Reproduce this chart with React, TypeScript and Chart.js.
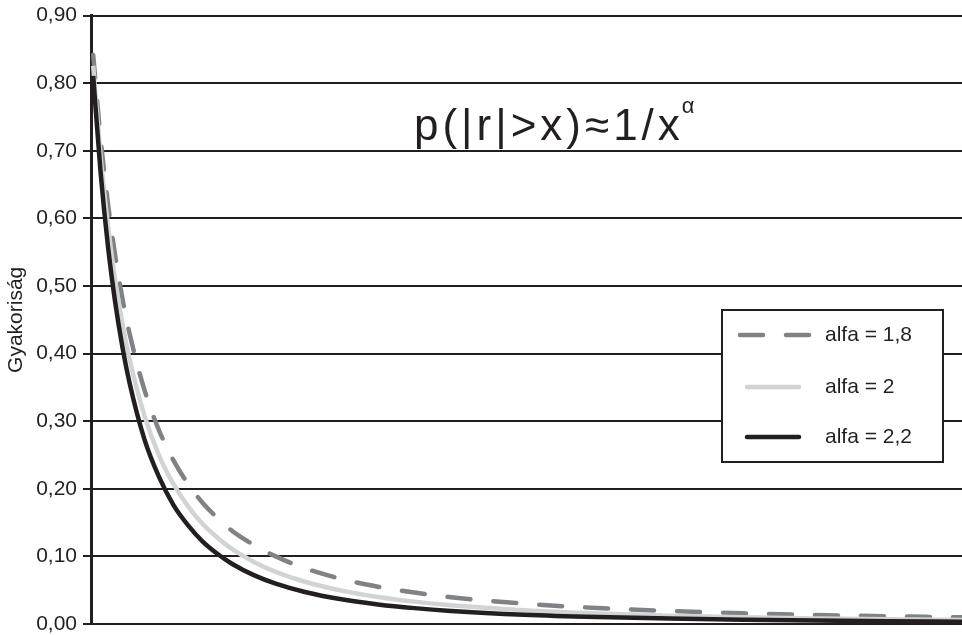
import React, { useEffect, useRef } from 'react';
import { Chart, registerables } from 'chart.js';

Chart.register(...registerables);

const FONT = "'Liberation Sans', Arial, Helvetica, sans-serif";
const INK = '#231f20';

const X_VALUES = [1.1, 1.2, 1.3, 1.4, 1.5, 1.6, 1.8, 2.0, 2.2, 2.4, 2.6, 2.8, 3.0, 3.3, 3.6, 4.0, 4.5, 5, 5.5, 6, 7, 8, 9, 10, 11, 12, 13];
const ALFA_18 = [0.842, 0.72, 0.624, 0.546, 0.482, 0.429, 0.347, 0.287, 0.242, 0.207, 0.179, 0.157, 0.138, 0.117, 0.1, 0.0825, 0.0667, 0.0552, 0.0465, 0.0397, 0.0301, 0.0237, 0.0192, 0.0158, 0.0134, 0.0114, 0.0099];
const ALFA_20 = [0.826, 0.694, 0.592, 0.51, 0.444, 0.391, 0.309, 0.25, 0.207, 0.174, 0.148, 0.128, 0.111, 0.0918, 0.0772, 0.0625, 0.0494, 0.04, 0.0331, 0.0278, 0.0204, 0.0156, 0.0123, 0.01, 0.0083, 0.0069, 0.0059];
const ALFA_22 = [0.811, 0.67, 0.561, 0.477, 0.41, 0.356, 0.274, 0.218, 0.176, 0.146, 0.122, 0.104, 0.0892, 0.0723, 0.0597, 0.0474, 0.0366, 0.029, 0.0235, 0.0194, 0.0138, 0.0103, 0.008, 0.0063, 0.0051, 0.0042, 0.0035];
const SERIES_LABELS = ['alfa = 1,8', 'alfa = 2', 'alfa = 2,2'];
const Y_TICK_LABELS = ['0,00', '0,10', '0,20', '0,30', '0,40', '0,50', '0,60', '0,70', '0,80', '0,90'];
const Y_TITLE = 'Gyakoriság';
const FORMULA = 'p(|r|>x)≈1/x';
const FORMULA_SUP = 'α';

const overlayPlugin = {
  id: 'overlay',
  afterDraw(chart: any) {
    const ctx = chart.ctx as CanvasRenderingContext2D;
    ctx.save();
    // formula
    ctx.fillStyle = INK;
    ctx.textBaseline = 'alphabetic';
    ctx.textAlign = 'left';
    ctx.font = `44px ${FONT}`;
    (ctx as any).letterSpacing = '4px';
    ctx.fillText(FORMULA, 414, 140);
    const w = ctx.measureText(FORMULA).width;
    (ctx as any).letterSpacing = '0px';
    ctx.font = `22px ${FONT}`;
    ctx.fillText(FORMULA_SUP, 414 + w - 2, 113);

    // legend
    const bx = 722, by = 310, bw = 221, bh = 152;
    ctx.fillStyle = '#ffffff';
    ctx.fillRect(bx, by, bw, bh);
    ctx.strokeStyle = INK;
    ctx.lineWidth = 2;
    ctx.setLineDash([]);
    ctx.strokeRect(bx, by, bw, bh);
    const rows = [335, 387, 437];
    chart.data.datasets.forEach((ds: any, i: number) => {
      const y = rows[i];
      ctx.save();
      ctx.strokeStyle = ds.borderColor;
      ctx.lineWidth = 4.5;
      ctx.lineCap = 'round';
      if (ds.borderDash && ds.borderDash.length) {
        ctx.setLineDash(ds.borderDash);
        ctx.beginPath();
        ctx.moveTo(740, y);
        ctx.lineTo(809, y);
        ctx.stroke();
      } else {
        ctx.setLineDash([]);
        ctx.beginPath();
        ctx.moveTo(747, y);
        ctx.lineTo(799, y);
        ctx.stroke();
      }
      ctx.restore();
      ctx.fillStyle = INK;
      ctx.font = `21px ${FONT}`;
      ctx.textBaseline = 'middle';
      ctx.fillText(ds.label, 825, y);
    });
    ctx.restore();
  },
};

export default function App() {
  const ref = useRef<HTMLCanvasElement | null>(null);
  useEffect(() => {
    if (!ref.current) return;
    const mk = (vals: number[]) => vals.map((v, i) => ({ x: X_VALUES[i], y: v }));
    const chart = new Chart(ref.current, {
      type: 'line',
      data: {
        datasets: [
          {
            label: SERIES_LABELS[0],
            data: mk(ALFA_18),
            borderColor: '#808285',
            borderWidth: 4.5,
            borderDash: [23, 23],
            borderCapStyle: 'round',
            pointRadius: 0,
            cubicInterpolationMode: 'monotone',
            fill: false,
            order: 2,
          },
          {
            label: SERIES_LABELS[1],
            data: mk(ALFA_20),
            borderColor: '#d1d3d4',
            borderWidth: 4.5,
            pointRadius: 0,
            cubicInterpolationMode: 'monotone',
            fill: false,
            order: 1,
          },
          {
            label: SERIES_LABELS[2],
            data: mk(ALFA_22),
            borderColor: INK,
            borderWidth: 4.5,
            pointRadius: 0,
            cubicInterpolationMode: 'monotone',
            fill: false,
            order: 0,
          },
        ],
      },
      options: {
        animation: false,
        responsive: false,
        devicePixelRatio: 1,
        layout: { padding: { top: 15.7, bottom: 11, left: 0, right: 0 } },
        plugins: { legend: { display: false }, tooltip: { enabled: false }, title: { display: false } },
        scales: {
          x: {
            type: 'linear',
            min: 1.07,
            max: 13,
            display: false,
          },
          y: {
            type: 'linear',
            min: 0,
            max: 0.9,
            afterFit: (scale: any) => {
              scale.width = 91;
              scale.paddingTop = 0;
              scale.paddingBottom = 0;
            },
            ticks: {
              stepSize: 0.1,
              color: INK,
              padding: 6,
              font: { family: FONT, size: 21 },
              callback: (_v: any, idx: number) => Y_TICK_LABELS[idx],
            },
            grid: {
              color: INK,
              lineWidth: 2,
              tickLength: 8,
              drawTicks: true,
            },
            border: { display: true, color: INK, width: 3 },
            title: {
              display: true,
              text: Y_TITLE,
              color: INK,
              font: { family: FONT, size: 21 },
              padding: { top: 4, bottom: 0 },
            },
          },
        },
      },
      plugins: [overlayPlugin],
    } as any);
    return () => chart.destroy();
  }, []);
  return (
    <div style={{ position: 'fixed', left: 0, top: 0, width: 962, height: 635, background: '#fff' }}>
      <canvas ref={ref} width={962} height={635} style={{ display: 'block', width: 962, height: 635 }} />
    </div>
  );
}
